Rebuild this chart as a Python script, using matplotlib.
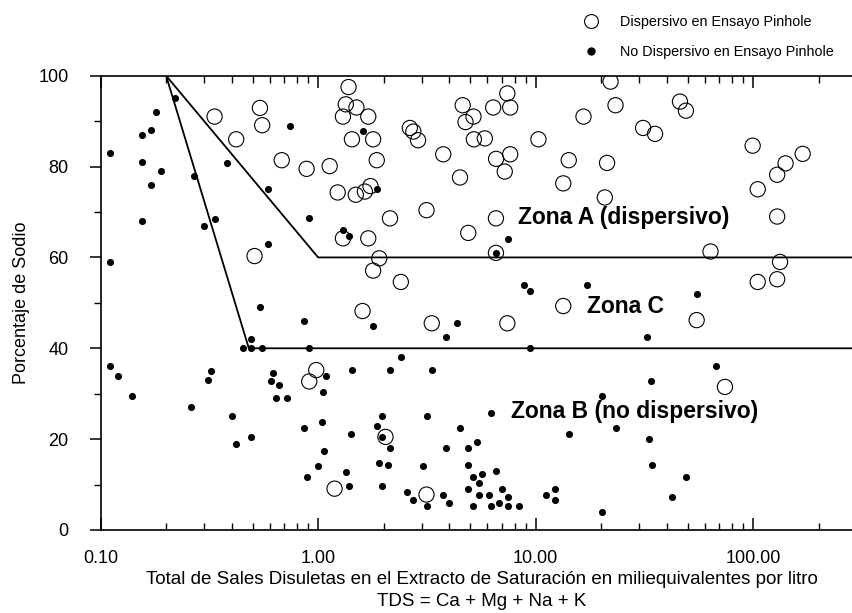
import matplotlib
matplotlib.use("Agg")
import matplotlib.pyplot as plt
from matplotlib.lines import Line2D
from matplotlib.ticker import FixedLocator, NullFormatter

plt.rcParams['font.family'] = ['Liberation Sans', 'DejaVu Sans']

# muestras dispersivas (circulos abiertos)
disp_tds = [0.334, 0.54, 0.553, 0.42, 0.68, 0.885, 1.13, 1.38, 1.34, 1.50,
            1.30, 1.43, 1.23, 1.49, 1.30, 0.51, 1.6, 1.70, 1.79, 1.86,
            1.64, 1.74, 2.14, 3.15, 1.70, 1.91, 1.79, 2.40, 3.33, 7.41,
            2.64, 2.74, 2.88, 3.76, 4.49, 4.62, 4.76, 5.18, 5.2, 5.84,
            6.38, 7.41, 7.64, 6.58, 7.64, 7.21, 6.57, 4.9, 6.57, 10.3,
            16.6, 14.2, 13.4, 21.3, 20.8, 22.1, 23.3, 31.2, 35.4, 46.1,
            49.1, 99.5, 105, 129, 141, 169, 129, 63.7, 133, 129,
            105, 13.4, 55, 74.2, 0.98, 0.91, 2.04, 1.19, 3.15]
disp_na = [91, 92.9, 89.1, 86, 81.4, 79.5, 80.1, 97.5, 93.7, 93,
           91, 86, 74.3, 73.8, 64.2, 60.3, 48.2, 91, 86, 81.4,
           74.5, 75.7, 68.6, 70.4, 64.2, 59.8, 57.1, 54.6, 45.5, 45.5,
           88.5, 87.7, 85.8, 82.7, 77.6, 93.5, 89.8, 91, 86, 86.2,
           93, 96.1, 93, 81.7, 82.7, 78.9, 68.6, 65.4, 61, 86,
           91, 81.4, 76.3, 80.8, 73.2, 98.7, 93.5, 88.5, 87.2, 94.3,
           92.3, 84.6, 75, 78.2, 80.7, 82.8, 69, 61.3, 59, 55.2,
           54.6, 49.3, 46.2, 31.5, 35.2, 32.7, 20.5, 9.1, 7.8]

# muestras no dispersivas (puntos llenos)
nodisp_tds = [0.11, 0.22, 0.18, 0.155, 0.17, 0.155, 0.19, 0.17, 0.155, 0.11,
              0.27, 0.38, 0.74, 0.585, 0.30, 0.334, 0.91, 0.59, 1.30, 1.38,
              0.54, 0.86, 0.49, 0.45, 0.49, 0.55, 0.91, 1.6, 1.86, 1.79,
              4.35, 3.88, 9.4, 2.4, 7.44, 6.57, 8.8, 9.4, 17.2, 55,
              32.4, 67.6, 0.11, 0.12, 0.14, 0.26, 0.31, 0.32, 0.40, 0.42,
              0.49, 0.62, 0.605, 0.66, 0.64, 0.72, 0.86, 1.04, 1.09, 1.05,
              1.06, 0.995, 0.89, 1.34, 1.38, 1.41, 1.43, 2.14, 3.33, 1.97,
              1.86, 1.97, 2.14, 1.90, 2.09, 1.97, 3.15, 3.88, 3.05, 2.56,
              2.72, 3.15, 3.76, 3.98, 4.49, 4.9, 5.35, 6.22, 14.2, 23.5,
              20.2, 33.9, 33.3, 34.3, 49, 42.3, 20.2, 4.9, 5.18, 5.69,
              5.5, 6.58, 4.9, 7.0, 5.5, 6.08, 7.44, 5.18, 6.22, 6.77,
              7.44, 8.36, 11.2, 12.3, 12.3]
nodisp_na = [83, 95, 92, 87, 88, 81, 79, 76, 68, 59,
             78, 80.7, 89, 75, 67, 68.5, 68.6, 63, 66, 64.8,
             49, 46, 42, 40, 40, 40, 40, 87.8, 75, 45,
             45.5, 42.4, 40, 38.1, 64, 61, 53.9, 52.6, 53.9, 52,
             42.4, 36, 36.1, 34, 29.6, 27, 33, 35, 25, 19,
             20.5, 34.6, 32.8, 32, 29, 29, 22.5, 23.8, 34, 30.4,
             17.4, 14.1, 11.6, 12.8, 9.7, 21.1, 35.3, 35.3, 35.3, 25.1,
             23, 20.5, 18.1, 14.8, 14.2, 9.7, 25.1, 18, 14.1, 8.4,
             6.5, 5.2, 7.7, 5.9, 22.5, 18, 19.3, 25.8, 21.2, 22.5,
             29.6, 32.7, 20, 14.2, 11.7, 7.2, 3.9, 14.2, 11.7, 12.3,
             10.3, 12.9, 9, 9, 7.8, 7.8, 7.2, 5.3, 5.3, 5.9,
             5.3, 5.3, 7.8, 9, 6.5]

# limites de zonas
x_max = 320
zona_a_x = [0.2, 1.0, x_max]
zona_a_y = [100, 60, 60]
zona_b_x = [0.2, 0.48, x_max]
zona_b_y = [100, 40, 40]

xtick_vals = [0.1, 1, 10, 100]
xtick_labels = ['0.10', '1.00', '10.00', '100.00']

fig = plt.figure(figsize=(8.53, 6.13), dpi=100)
ax = fig.add_axes([0.118, 0.1354, 0.8937, 0.7411])

ax.scatter(disp_tds, disp_na, s=120, facecolors='none', edgecolors='black',
           linewidths=0.8, zorder=3)
ax.scatter(nodisp_tds, nodisp_na, s=26, color='black', linewidths=0, zorder=4)

ax.plot(zona_a_x, zona_a_y, color='black', lw=1.3, zorder=2)
ax.plot(zona_b_x, zona_b_y, color='black', lw=1.3, zorder=2)

ax.text(8.3, 68.8, 'Zona A (dispersivo)', fontsize=16.5, fontweight='bold',
        ha='left', va='center')
ax.text(17.2, 49.2, 'Zona C', fontsize=16.5, fontweight='bold',
        ha='left', va='center')
ax.text(7.69, 26.0, 'Zona B (no dispersivo)', fontsize=16.5,
        fontweight='bold', ha='left', va='center')

ax.set_xscale('log')
ax.set_xlim(0.1, x_max)
ax.set_ylim(0, 100)

ax.xaxis.set_major_locator(FixedLocator(xtick_vals))
ax.set_xticklabels(xtick_labels)
minors = [m * 10.0 ** e for e in (-1, 0, 1, 2) for m in range(2, 10)]
ax.xaxis.set_minor_locator(FixedLocator(minors))
ax.xaxis.set_minor_formatter(NullFormatter())
ax.set_yticks([0, 20, 40, 60, 80, 100])
ax.set_yticks([10, 30, 50, 70, 90], minor=True)

ax.tick_params(axis='x', which='both', direction='in', top=True, bottom=True,
               labelsize=13, pad=14.5)
ax.tick_params(axis='x', which='major', length=8.5, width=1.1)
ax.tick_params(axis='x', which='minor', length=4.8, width=1.0)
ax.tick_params(axis='y', which='both', direction='out', right=False,
               labelsize=13, pad=15)
ax.tick_params(axis='y', which='major', length=8, width=1.1)
ax.tick_params(axis='y', which='minor', length=5, width=1.0)

for side in ('left', 'bottom', 'top'):
    ax.spines[side].set_linewidth(1.2)
ax.spines['right'].set_visible(False)

ax.set_xlabel('Total de Sales Disuletas en el Extracto de Saturación en '
              'miliequivalentes por litro\nTDS = Ca + Mg + Na + K',
              fontsize=13.5, linespacing=1.33, labelpad=3)
ax.set_ylabel('Porcentaje de Sodio', fontsize=13)
ax.yaxis.set_label_coords(-0.0925, 0.5)

handles = [
    Line2D([], [], ls='none', marker='o', ms=10, mfc='none', mec='black',
           mew=0.8),
    Line2D([], [], ls='none', marker='o', ms=5, mfc='black', mec='black'),
]
fig.legend(handles, ['Dispersivo en Ensayo Pinhole',
                     'No Dispersivo en Ensayo Pinhole'],
           loc='upper left', bbox_to_anchor=(0.668, 0.997), frameon=False,
           fontsize=10.4, labelspacing=1.1, handletextpad=1.35,
           handlelength=1.2)

fig.savefig('out.png', dpi=100)
